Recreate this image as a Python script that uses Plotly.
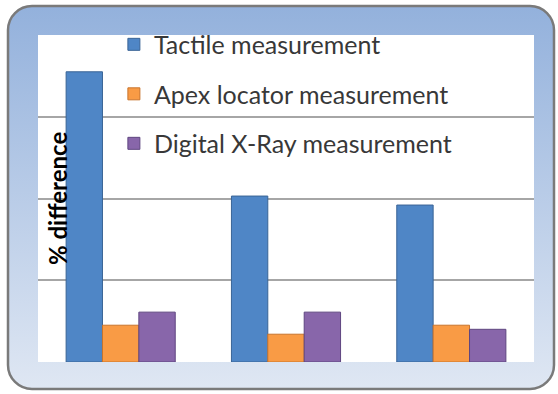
import base64
import plotly.graph_objects as go

categories = ["Group 1", "Group 2", "Group 3"]
series_names = ["Tactile measurement", "Apex locator measurement", "Digital X-Ray measurement"]
tactile = [3.55, 2.03, 1.92]
apex = [0.45, 0.34, 0.45]
digital = [0.61, 0.61, 0.40]
series_values = [tactile, apex, digital]
colors = ["#4f86c6", "#f99b45", "#8866aa"]
edge_colors = ["#3a6496", "#c8742c", "#5f4680"]
y_tick_values = [0, 1, 2, 3]

W, H = 558, 394
ML, MR, MT, MB = 38, 24, 35, 32
PW, PH = W - ML - MR, H - MT - MB

svg = f'''<svg xmlns="http://www.w3.org/2000/svg" width="{W}" height="{H}" viewBox="0 0 {W} {H}" preserveAspectRatio="none">
<defs><linearGradient id="g" x1="0" y1="0" x2="0" y2="1">
<stop offset="0" stop-color="#93b1dc"/><stop offset="1" stop-color="#dfe7f3"/></linearGradient></defs>
<rect x="8" y="6" width="546" height="383" rx="24" ry="24" fill="url(#g)" stroke="#7a7a7a" stroke-width="2.5"/>
</svg>'''
src = "data:image/svg+xml;base64," + base64.b64encode(svg.encode()).decode()

fig = go.Figure()
for name, vals, c, ec in zip(series_names, series_values, colors, edge_colors):
    fig.add_trace(go.Bar(
        x=categories, y=vals, name=name, legendgroup=name,
        marker=dict(color=c, line=dict(color=ec, width=1)),
    ))

fig.add_layout_image(dict(
    source=src, xref="paper", yref="paper",
    x=-ML / PW, y=1 + MT / PH, sizex=W / PW, sizey=H / PH,
    sizing="stretch", xanchor="left", yanchor="top", layer="below",
))
fig.add_shape(type="rect", xref="paper", yref="paper", x0=0, x1=1, y0=0, y1=1,
              fillcolor="white", line=dict(width=0), layer="below")

fig.add_annotation(
    text="<b>% difference</b>", textangle=-90, xref="paper", yref="paper",
    x=(58 - ML) / PW, y=(362 - 199) / PH, xanchor="center", yanchor="middle",
    showarrow=False,
    font=dict(family="Lato", size=24, color="#000000"),
)

fig.update_layout(
    width=W, height=H,
    margin=dict(l=ML, r=MR, t=MT, b=MB),
    paper_bgcolor="white", plot_bgcolor="rgba(0,0,0,0)",
    barmode="group", bargap=0.34, bargroupgap=0,
    font=dict(family="Lato", size=25, color="#383838"),
    showlegend=True,
    legend=dict(x=0.153, y=1.041, xanchor="left", yanchor="top",
                bgcolor="rgba(0,0,0,0)", tracegroupgap=14,
                font=dict(family="Lato", size=25, color="#383838")),
    xaxis=dict(showticklabels=False, showgrid=False, zeroline=False, showline=False, ticks=""),
    yaxis=dict(range=[0, 4], tickvals=y_tick_values, showticklabels=False,
               showgrid=True, gridcolor="#a6a6a6", gridwidth=1.5,
               zeroline=False, showline=False, ticks=""),
)

fig.write_html("out.html")
